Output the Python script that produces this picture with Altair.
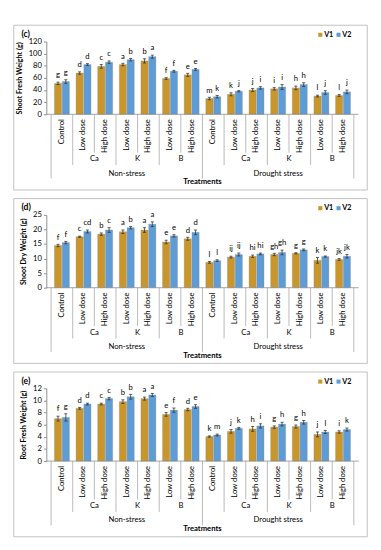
import altair as alt
import pandas as pd

# ---------------- data ----------------
stress = ["Non-stress"] * 7 + ["Drought stress"] * 7
nutrient = ["", "Ca", "Ca", "K", "K", "B", "B"] * 2
dose = ["Control", "Low dose", "High dose", "Low dose", "High dose", "Low dose", "High dose"] * 2
series = ["V1", "V2"]

# (c) Shoot Fresh Weight (g)
sfw_v1 = [51, 68, 79, 82, 88, 59, 65, 26, 33, 40, 42, 43.5, 30, 31]
sfw_v2 = [54, 82, 86, 90, 95, 71, 74, 29, 38, 43.5, 45, 49, 36, 37]
sfw_e1 = [2, 2, 3, 2, 3.5, 1.5, 2.5, 2, 2.5, 2.5, 2, 3, 1.5, 1.5]
sfw_e2 = [3, 1.5, 2, 2, 2.5, 1.5, 1.5, 2, 1, 2, 4, 3, 3, 3]
sfw_l1 = ["g", "d", "c", "a", "b", "f", "e", "m", "k", "j", "i", "h", "l", "l"]
sfw_l2 = ["g", "d", "c", "b", "a", "f", "e", "k", "j", "i", "i", "h", "j", "j"]

# (d) Shoot Dry Weight (g)
sdw_v1 = [14.5, 17.5, 18.4, 19.2, 19.8, 15.7, 16.8, 8.7, 10.5, 10.8, 11.4, 11.8, 9.4, 9.7]
sdw_v2 = [15.5, 19.3, 19.8, 20.6, 21.8, 17.8, 19.0, 9.3, 11.4, 11.6, 12.1, 13.0, 10.7, 10.8]
sdw_e1 = [0.4, 0.2, 0.4, 0.6, 0.8, 0.6, 0.5, 0.3, 0.3, 0.4, 0.4, 0.2, 1.0, 0.3]
sdw_e2 = [0.4, 0.5, 0.8, 0.4, 0.8, 0.4, 0.8, 0.3, 0.5, 0.3, 0.8, 0.3, 0.2, 0.6]
sdw_l1 = ["f", "c", "b", "a", "a", "e", "d", "l", "ij", "hi", "gh", "g", "k", "jk"]
sdw_l2 = ["f", "cd", "c", "b", "a", "e", "d", "l", "ij", "hi", "gh", "g", "k", "jk"]

# (e) Root Fresh Weight (g)
rfw_v1 = [7.0, 8.7, 9.4, 9.8, 10.3, 7.7, 8.5, 4.05, 4.9, 5.3, 5.6, 5.7, 4.4, 4.8]
rfw_v2 = [7.2, 9.4, 10.3, 10.6, 10.9, 8.4, 9.0, 4.3, 5.4, 5.8, 6.1, 6.4, 4.8, 5.2]
rfw_e1 = [0.4, 0.15, 0.15, 0.3, 0.25, 0.3, 0.2, 0.1, 0.3, 0.4, 0.2, 0.25, 0.4, 0.2]
rfw_e2 = [0.6, 0.15, 0.2, 0.4, 0.25, 0.35, 0.3, 0.15, 0.15, 0.35, 0.3, 0.3, 0.25, 0.25]
rfw_l1 = ["f", "d", "c", "b", "a", "e", "d", "k", "j", "h", "g", "g", "j", "i"]
rfw_l2 = ["g", "d", "c", "b", "a", "f", "e", "m", "k", "i", "h", "h", "l", "k"]

# ---------------- layout / style ----------------
W, H = 326, 76
FONT = "Lato"
C1, C2 = "#C9962C", "#5E9CD6"
N = len(dose)
cscale = alt.Scale(domain=series, range=[C1, C2])
one = pd.DataFrame(dict(k=[0]))


def vrule(x, y1, y2, color="#BFBFBF", w=1.0):
    return alt.Chart(one).mark_rule(color=color, strokeWidth=w).encode(
        x=alt.value(x), y=alt.value(y1), y2=alt.value(y2))


def hrule(x1, x2, y, color="#BFBFBF", w=1.0):
    return alt.Chart(one).mark_rule(color=color, strokeWidth=w).encode(
        x=alt.value(x1), x2=alt.value(x2), y=alt.value(y))


def panel(tag, ytitle, ticks, v1, v2, e1, e2, l1, l2):
    rows = []
    for i in range(N):
        for s, v, e, l, off in (("V1", v1[i], e1[i], l1[i], -0.18), ("V2", v2[i], e2[i], l2[i], 0.18)):
            rows.append(dict(pos=i, xc=i + 0.5 + off, xa=i + 0.5 + off - 0.07,
                             xb=i + 0.5 + off + 0.07, series=s, value=v,
                             lo=v - e, hi=v + e, letter=l))
    df = pd.DataFrame(rows)

    xs = alt.Scale(domain=[0, N], nice=False, zero=False)
    ys = alt.Scale(domain=[ticks[0], ticks[-1]], nice=False)
    yaxis = alt.Axis(values=ticks, grid=False, domainColor="#8C8C8C",
                     tickColor="#8C8C8C", tickSize=3, labelFontSize=8,
                     labelColor="#000", labelPadding=2, labelOverlap=False,
                     titleFontSize=7.5, titleFontWeight="bold",
                     titleColor="#000", titlePadding=5)

    def X(f):
        return alt.X(f, scale=xs, axis=None)

    def Y(f):
        return alt.Y(f, scale=ys, axis=yaxis, title=ytitle)

    base = alt.Chart(df)
    bars = base.mark_bar(size=7.5, stroke="#7F7F7F", strokeWidth=0.3).encode(
        x=X("xc:Q"), y=Y("value:Q"),
        color=alt.Color("series:N", scale=cscale, legend=None),
    )
    err = base.mark_rule(color="#333", strokeWidth=0.8).encode(
        x=X("xc:Q"), y=Y("lo:Q"), y2="hi:Q")
    cap_hi = base.mark_rule(color="#333", strokeWidth=0.8).encode(
        x=X("xa:Q"), x2="xb:Q", y=Y("hi:Q"))
    cap_lo = base.mark_rule(color="#333", strokeWidth=0.8).encode(
        x=X("xa:Q"), x2="xb:Q", y=Y("lo:Q"))
    letters = base.mark_text(baseline="bottom", dy=-3, fontSize=8, color="#000").encode(
        x=X("xc:Q"), y=Y("hi:Q"), text="letter:N")

    # category axis (multi-level)
    cat = pd.DataFrame(dict(xm=[i + 0.5 for i in range(N)], dose=dose))
    lvl1 = alt.Chart(cat).mark_text(angle=270, align="right", baseline="middle",
                                   fontSize=8, color="#000").encode(
        x=X("xm:Q"), y=alt.value(H + 5), text="dose:N")

    nut_rows = []
    for i in range(N):
        if nutrient[i] and (i == 0 or nutrient[i - 1] != nutrient[i] or stress[i - 1] != stress[i]):
            nut_rows.append(dict(xm=i + 1.0, label=nutrient[i]))
    lvl2 = alt.Chart(pd.DataFrame(nut_rows)).mark_text(fontSize=8, color="#000", baseline="middle").encode(
        x=X("xm:Q"), y=alt.value(H + 47), text="label:N")

    st_rows = [dict(xm=3.5, label=stress[0]), dict(xm=10.5, label=stress[7])]
    lvl3 = alt.Chart(pd.DataFrame(st_rows)).mark_text(fontSize=8, color="#000", baseline="middle").encode(
        x=X("xm:Q"), y=alt.value(H + 62), text="label:N")

    xtitle = alt.Chart(pd.DataFrame([dict(xm=N / 2, label="Treatments")])).mark_text(
        fontSize=8, fontWeight="bold", color="#000", baseline="middle").encode(
        x=X("xm:Q"), y=alt.value(H + 71), text="label:N")

    # separators
    full_b, mid_b, short_b = [], [], []
    for b in range(N + 1):
        if b in (0, N) or stress[b - 1] != stress[b]:
            full_b.append(b)
        elif nutrient[b - 1] != nutrient[b]:
            mid_b.append(b)
        else:
            short_b.append(b)
    seps = []
    for bl, ln in ((full_b, 67), (mid_b, 53), (short_b, 40)):
        seps.append(alt.Chart(pd.DataFrame(dict(b=bl))).mark_rule(color="#A6A6A6", strokeWidth=0.8).encode(
            x=X("b:Q"), y=alt.value(H), y2=alt.value(H + ln)))

    baseline = hrule(0, W, H, color="#8C8C8C", w=0.8)

    fl, fr, ft, fb = -34, W + 9, -17, H + 79
    frame = [hrule(fl, fr, ft), hrule(fl, fr, fb), vrule(fl, ft, fb), vrule(fr, ft, fb)]

    tagtxt = alt.Chart(pd.DataFrame(dict(label=[tag]))).mark_text(
        fontSize=9, fontWeight="bold", align="left", baseline="middle", color="#000").encode(
        x=alt.value(-26), y=alt.value(-8), text="label:N")

    # manual legend
    leg_sq = []
    leg_tx = []
    for s, lx in zip(series, [W - 40, W - 21]):
        d = pd.DataFrame(dict(series=[s]))
        leg_sq.append(alt.Chart(d).mark_square(size=18, opacity=1, color=C1 if s == "V1" else C2).encode(
            x=alt.value(lx), y=alt.value(-7)))
        leg_tx.append(alt.Chart(d).mark_text(align="left", baseline="middle", dx=4, fontSize=7.5,
                                             fontWeight="bold", color="#000").encode(
            x=alt.value(lx), y=alt.value(-7), text="series:N"))

    return alt.layer(bars, err, cap_hi, cap_lo, letters, *frame, *seps, baseline,
                     lvl1, lvl2, lvl3, xtitle, tagtxt, *leg_sq, *leg_tx).properties(width=W, height=H)


pc = panel("(c)", "Shoot Fresh Weight (g)", [0, 20, 40, 60, 80, 100, 120],
           sfw_v1, sfw_v2, sfw_e1, sfw_e2, sfw_l1, sfw_l2)
pd_ = panel("(d)", "Shoot Dry Weight (g)", [0, 5, 10, 15, 20, 25],
            sdw_v1, sdw_v2, sdw_e1, sdw_e2, sdw_l1, sdw_l2)
pe = panel("(e)", "Root Fresh Weight (g)", [0, 2, 4, 6, 8, 10, 12],
           rfw_v1, rfw_v2, rfw_e1, rfw_e2, rfw_l1, rfw_l2)

chart = alt.vconcat(pc, pd_, pe, spacing=7).configure(
    font=FONT
).configure_view(stroke=None)

chart.save("out.html", embed_options={"renderer": "svg", "actions": False})
